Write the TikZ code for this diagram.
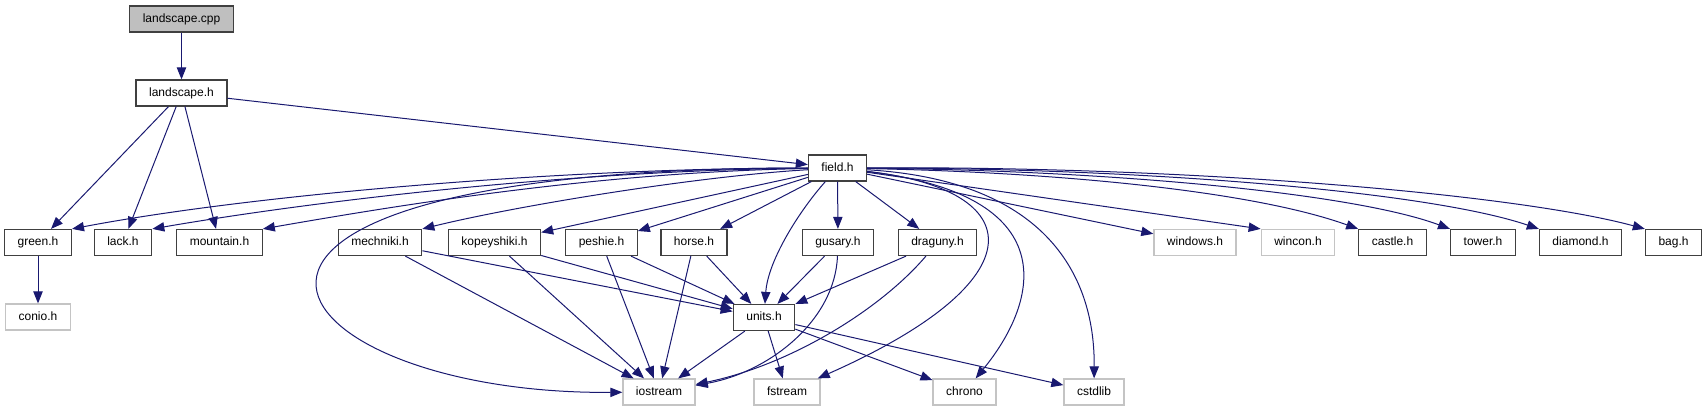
\documentclass[tikz,border=0pt]{standalone}
\usepackage{fontspec}
\setmainfont{Liberation Sans}
\usetikzlibrary{arrows.meta}
\definecolor{depbleu}{RGB}{25,25,112}
\definecolor{boxgris}{RGB}{64,64,64}
\definecolor{sysgris}{RGB}{196,196,196}
\definecolor{rootgris}{RGB}{191,191,191}

\begin{document}
\begin{tikzpicture}[x=0.75pt, y=-0.75pt,
  hdr/.style={rectangle, draw=boxgris, fill=white, line width=0.9pt,
    minimum height=19.5pt, inner xsep=9.8pt, text height=6.8pt, text depth=1.9pt,
    font=\fontsize{9}{11}\selectfont},
  sys/.style={hdr, draw=sysgris},
  root/.style={hdr, fill=rootgris},
  dep/.style={-{Triangle[length=9pt,width=7pt]}, draw=depbleu, line width=0.75pt}
]
  \useasboundingbox (0,0) rectangle (1707,411);

  \node[root] (cpp)        at (181.5,19)   {landscape.cpp};
  \node[hdr]  (landh)      at (181.5,93)   {landscape.h};
  \node[hdr]  (field)      at (837.5,168)  {field.h};

  % row of headers
  \node[hdr]  (green)      at (38,242.5)   {green.h};
  \node[hdr]  (lack)       at (123,242.5)  {lack.h};
  \node[hdr]  (mountain)   at (219.5,242.5){mountain.h};
  \node[hdr]  (mechniki)   at (380,242.5)  {mechniki.h};
  \node[hdr]  (kopeyshiki) at (494.5,242.5){kopeyshiki.h};
  \node[hdr]  (peshie)     at (601.5,242.5){peshie.h};
  \node[hdr]  (horse)      at (694,242.5)  {horse.h};
  \node[hdr]  (gusary)     at (838,242.5)  {gusary.h};
  \node[hdr]  (draguny)    at (937.5,242.5){draguny.h};
  \node[sys]  (windows)    at (1195,242.5) {windows.h};
  \node[sys]  (wincon)     at (1298,242.5) {wincon.h};
  \node[hdr]  (castle)     at (1392.5,242.5){castle.h};
  \node[hdr]  (tower)      at (1483,242.5) {tower.h};
  \node[hdr]  (diamond)    at (1580.5,242.5){diamond.h};
  \node[hdr]  (bag)        at (1673.5,242.5){bag.h};

  \node[sys]  (conio)      at (38,317)     {conio.h};
  \node[hdr]  (units)      at (764,317.5)  {units.h};

  % system headers
  \node[sys]  (iostream)   at (659,392)    {iostream};
  \node[sys]  (fstream)    at (787,392)    {fstream};
  \node[sys]  (chrono)     at (964.5,392)  {chrono};
  \node[sys]  (cstdlib)    at (1094,392)   {cstdlib};

  \draw[dep] (cpp)   -- (landh);
  \draw[dep] (landh) -- (green);
  \draw[dep] (landh) -- (lack);
  \draw[dep] (landh) -- (mountain);
  \draw[dep] (landh) -- (field);
  \draw[dep] (green) -- (conio);

  % field.h, left side
  \draw[dep] (field) .. controls (560,168) and (250,195) .. (green.north east);
  \draw[dep] (field) .. controls (580,170) and (320,200) .. (lack.north east);
  \draw[dep] (field) .. controls (600,172) and (400,205) .. (mountain.north east);
  \draw[dep] (field) .. controls (700,176) and (520,205) .. (mechniki.north east);
  \draw[dep] (field) -- (kopeyshiki);
  \draw[dep] (field) -- (peshie);
  \draw[dep] (field) -- (horse);
  \draw[dep] (field) -- (gusary);
  \draw[dep] (field) -- (draguny);
  \draw[dep] (field) .. controls (800,210) and (768,260) .. (units);
  \draw[dep] (field) .. controls (100,168) and (270,395) .. (iostream);

  % field.h, right side
  \draw[dep] (field) .. controls (1030,190) and (1040,280) .. (fstream);
  \draw[dep] (field) .. controls (1065,195) and (1040,300) .. (chrono);
  \draw[dep] (field) .. controls (1040,180) and (1095,270) .. (cstdlib);
  \draw[dep] (field) -- (windows);
  \draw[dep] (field) -- (wincon.north west);
  \draw[dep] (field) .. controls (1050,172) and (1250,190) .. (castle.north west);
  \draw[dep] (field) .. controls (1100,170) and (1350,192) .. (tower.north west);
  \draw[dep] (field) .. controls (1150,168) and (1430,192) .. (diamond.north west);
  \draw[dep] (field) .. controls (1200,166) and (1520,195) .. (bag.north west);

  % units
  \draw[dep] (mechniki)   -- (units);
  \draw[dep] (kopeyshiki) -- (units);
  \draw[dep] (peshie)     -- (units);
  \draw[dep] (horse)      -- (units);
  \draw[dep] (gusary)     -- (units);
  \draw[dep] (draguny)    -- (units);
  \draw[dep] (mechniki)   -- (iostream);
  \draw[dep] (kopeyshiki) -- (iostream);
  \draw[dep] (peshie)     -- (iostream);
  \draw[dep] (horse)      -- (iostream);
  \draw[dep] (gusary)  .. controls (835,320) and (770,372) .. (iostream);
  \draw[dep] (draguny) .. controls (880,310) and (790,365) .. (iostream);
  \draw[dep] (units) -- (iostream);
  \draw[dep] (units) -- (fstream);
  \draw[dep] (units) -- (chrono);
  \draw[dep] (units) -- (cstdlib);
\end{tikzpicture}
\end{document}
